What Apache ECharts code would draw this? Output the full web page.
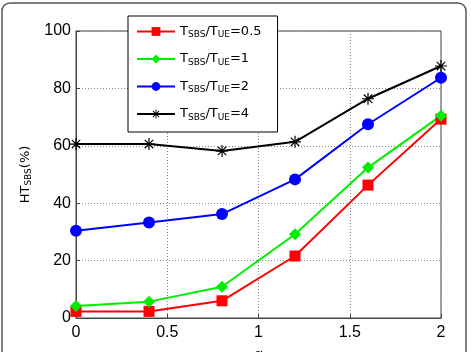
<!DOCTYPE html>
<html>
<head>
<meta charset="utf-8">
<script src="https://cdn.jsdelivr.net/npm/echarts@6/dist/echarts.min.js"></script>
<style>
html, body { margin: 0; padding: 0; background: #fff; }
#chart { width: 471px; height: 352px; }
</style>
</head>
<body>
<div id="chart"></div>
<script>
var alpha = [0, 0.4, 0.8, 1.2, 1.6, 2];
var ratio05 = [2.3, 2.3, 6.0, 21.6, 46.3, 69.3];
var ratio1 = [4.2, 5.7, 10.9, 29.2, 52.4, 70.5];
var ratio2 = [30.4, 33.3, 36.2, 48.3, 67.5, 83.7];
var ratio4 = [60.6, 60.6, 58.2, 61.4, 76.4, 87.8];
var seriesNames = ['0.5', '1', '2', '4'];

function pairs(ys) {
    return alpha.map(function (x, i) { return [x, ys[i]]; });
}

// 星号标记
var star = 'path://M-1,-10L1,-10L1,10L-1,10Z M-10,-1L10,-1L10,1L-10,1Z ' +
    'M-7.7,-6.3L-6.3,-7.7L7.7,6.3L6.3,7.7Z M6.3,-7.7L7.7,-6.3L-6.3,7.7L-7.7,6.3Z';

var myChart = echarts.init(document.getElementById('chart'));

var sub = { fontSize: 9, verticalAlign: 'bottom', padding: [7, 0, 0, 0], fontFamily: 'DejaVu Sans', color: '#000' };

function mk(name, data, color, symbol, size) {
    return {
        name: name,
        type: 'line',
        data: pairs(data),
        symbol: symbol,
        symbolSize: size,
        lineStyle: { color: color, width: 2 },
        itemStyle: { color: color },
        z: 3
    };
}

var option = {
    animation: false,
    graphic: [{
        type: 'rect',
        shape: { x: 2, y: 3, width: 464, height: 380, r: 8 },
        style: { fill: 'none', stroke: '#555', lineWidth: 1.5 },
        silent: true
    }],
    grid: {
        left: 76, right: 30, top: 31, bottom: 34,
        outerBoundsMode: 'none',
        containLabel: false,
        show: true, borderColor: '#444', borderWidth: 1
    },
    legend: {
        orient: 'vertical',
        left: 128, top: 16,
        backgroundColor: '#fff',
        borderColor: '#000',
        borderWidth: 1,
        padding: [9, 16, 10, 8],
        itemWidth: 38,
        itemHeight: 11,
        itemGap: 13,
        data: seriesNames,
        formatter: function (n) {
            return 'T{s|SBS}/T{s|UE}=' + n;
        },
        textStyle: {
            fontFamily: 'DejaVu Sans',
            fontSize: 13,
            color: '#000',
            rich: { s: sub }
        }
    },
    xAxis: {
        type: 'value',
        min: 0, max: 2, interval: 0.5,
        name: 'α',
        nameLocation: 'middle',
        nameGap: 30,
        nameTextStyle: { fontSize: 14, color: '#000', fontFamily: 'Liberation Sans' },
        axisLine: { show: true, lineStyle: { color: '#444' } },
        axisTick: { show: true, inside: true, length: 4, lineStyle: { color: '#444' } },
        axisLabel: { color: '#000', fontSize: 16, fontFamily: 'Liberation Sans', margin: 7 },
        splitLine: { show: true, lineStyle: { color: '#888', type: [1, 2] } }
    },
    yAxis: {
        type: 'value',
        min: 0, max: 100, interval: 20,
        name: 'HT{s|SBS}(%)',
        nameLocation: 'middle',
        nameGap: 43,
        nameTextStyle: {
            fontSize: 13, color: '#000', fontFamily: 'DejaVu Sans',
            rich: { s: { fontSize: 9, verticalAlign: 'bottom', padding: [5, 0, 0, 0], fontFamily: 'DejaVu Sans', color: '#000' } }
        },
        axisLine: { show: true, lineStyle: { color: '#444' } },
        axisTick: { show: true, inside: true, length: 4, lineStyle: { color: '#444' } },
        axisLabel: { color: '#000', fontSize: 16, fontFamily: 'Liberation Sans', margin: 5 },
        splitLine: { show: true, lineStyle: { color: '#888', type: [1, 2] } }
    },
    series: [
        mk('0.5', ratio05, '#ff0000', 'rect', 11),
        mk('1', ratio1, '#00ee00', 'diamond', 12),
        mk('2', ratio2, '#0000ff', 'circle', 12),
        mk('4', ratio4, '#000000', star, 12)
    ]
};
myChart.setOption(option);
</script>
</body>
</html>
